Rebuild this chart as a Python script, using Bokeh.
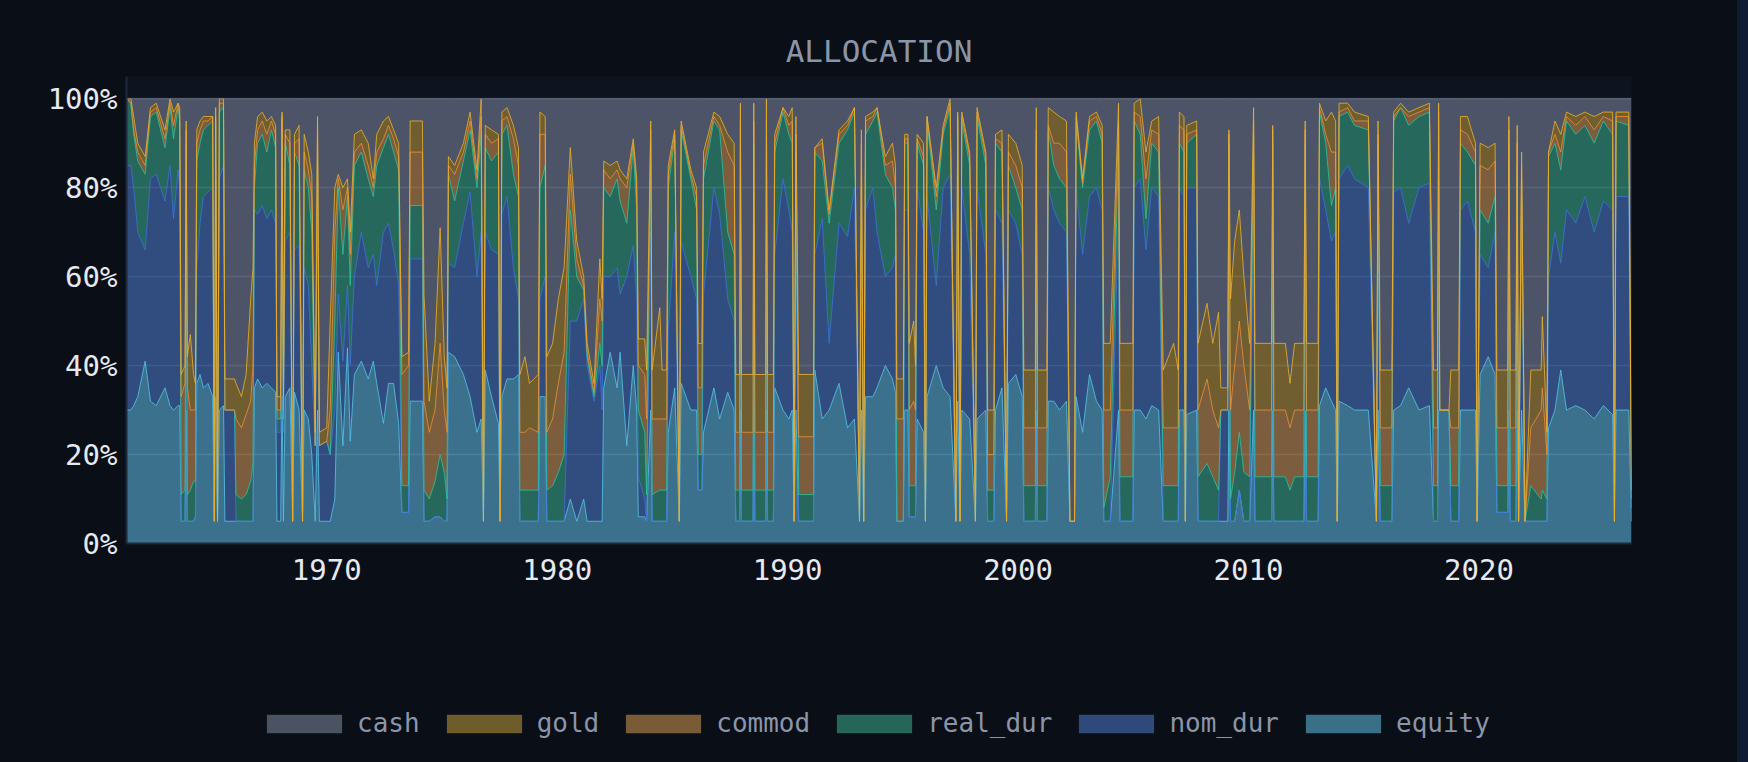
from bokeh.plotting import figure
from bokeh.layouts import column
from bokeh.models import (ColumnDataSource, Legend, LegendItem, FixedTicker,
                          NumeralTickFormatter, Range1d)
from bokeh.transform import stack
from bokeh.embed import file_html
from bokeh.resources import INLINE

# ---- data (decimal year, allocation shares) ----
t = [
 1961.32,1961.50,1961.62,1961.80,1962.12,1962.35,1962.60,1962.98,1963.20,1963.35,
 1963.55,1963.62,1963.68,1963.85,1963.90,1963.95,1964.08,1964.22,1964.30,1964.36,
 1964.50,1964.65,1964.85,1965.05,1965.12,1965.18,1965.26,1965.34,1965.52,1965.58,
 1966.00,1966.06,1966.30,1966.50,1966.70,1966.80,1966.86,1967.00,1967.20,1967.40,
 1967.60,1967.78,1967.84,1968.00,1968.06,1968.12,1968.20,1968.40,1968.52,1968.60,
 1968.80,1968.95,1969.02,1969.20,1969.35,1969.50,1969.60,1969.68,1970.00,1970.15,
 1970.35,1970.50,1970.70,1970.90,1971.02,1971.20,1971.50,1971.80,1972.02,1972.17,
 1972.46,1972.68,1972.90,1973.12,1973.26,1973.55,1973.62,1974.15,1974.22,1974.45,
 1974.70,1974.92,1975.10,1975.22,1975.28,1975.55,1975.93,1976.22,1976.52,1976.70,
 1976.80,1976.88,1977.15,1977.45,1977.52,1977.60,1977.82,1978.10,1978.32,1978.38,
 1978.60,1978.80,1979.18,1979.25,1979.48,1979.55,1979.80,1980.05,1980.30,1980.57,
 1980.85,1981.15,1981.30,1981.60,1981.85,1981.95,1982.02,1982.30,1982.60,1982.73,
 1983.02,1983.30,1983.45,1983.52,1983.80,1983.88,1984.06,1984.12,1984.45,1984.55,
 1984.75,1984.82,1985.10,1985.30,1985.38,1985.80,1986.05,1986.12,1986.28,1986.35,
 1986.80,1987.05,1987.40,1987.68,1987.75,1987.92,1987.95,1988.00,1988.50,1988.53,
 1988.58,1989.05,1989.08,1989.13,1989.38,1989.44,1989.80,1990.05,1990.20,1990.28,
 1990.36,1990.48,1991.12,1991.18,1991.50,1991.80,1992.23,1992.60,1992.90,1993.12,
 1993.20,1993.30,1993.38,1993.70,1993.88,1994.24,1994.55,1994.68,1994.74,1995.02,
 1995.08,1995.22,1995.28,1995.47,1995.55,1995.62,1995.90,1995.98,1996.05,1996.45,
 1996.75,1997.05,1997.30,1997.38,1997.48,1997.56,1997.90,1998.15,1998.22,1998.60,
 1998.68,1998.95,1999.02,1999.30,1999.50,1999.58,1999.90,2000.18,2000.25,2000.75,
 2000.79,2000.84,2001.25,2001.31,2001.55,2001.80,2002.10,2002.25,2002.45,2002.52,
 2002.80,2003.10,2003.40,2003.65,2003.72,2004.00,2004.36,2004.42,2004.98,2005.04,
 2005.30,2005.55,2005.80,2006.10,2006.30,2006.75,2006.95,2007.00,2007.20,2007.26,
 2007.32,2007.75,2007.81,2008.20,2008.45,2008.70,2008.80,2009.10,2009.15,2009.22,
 2009.40,2009.60,2009.80,2010.05,2010.22,2010.28,2011.00,2011.05,2011.10,2011.60,
 2011.80,2012.00,2012.40,2012.46,2012.52,2013.02,2013.08,2013.35,2013.60,2013.78,
 2013.85,2013.93,2014.30,2014.60,2015.20,2015.55,2015.62,2015.72,2016.22,2016.30,
 2016.60,2016.95,2017.40,2017.85,2018.03,2018.20,2018.25,2018.30,2018.70,2018.78,
 2019.12,2019.20,2019.50,2019.85,2019.92,2020.05,2020.40,2020.70,2020.78,2021.25,
 2021.30,2021.36,2021.60,2021.66,2021.72,2021.85,2022.00,2022.25,2022.70,2022.75,
 2022.95,2023.02,2023.30,2023.55,2023.80,2024.20,2024.60,2025.00,2025.40,2025.80,
 2025.88,2025.95,2026.50,2026.62,
]

equity = [
 .30,.30,.31,.33,.41,.32,.31,.35,.31,.30,
 .31,.31,.05,.05,.30,.05,.05,.05,.06,.36,
 .38,.35,.36,.33,.05,.33,.05,.30,.31,.05,
 .05,.05,.05,.05,.05,.05,.35,.37,.35,.36,
 .35,.34,.05,.05,.33,.05,.33,.35,.05,.34,
 .30,.05,.30,.28,.20,.05,.30,.05,.05,.05,
 .10,.43,.22,.44,.23,.38,.41,.37,.41,.36,
 .27,.36,.36,.27,.07,.07,.32,.32,.05,.05,
 .06,.06,.05,.05,.43,.42,.38,.33,.25,.28,
 .05,.39,.33,.27,.05,.33,.37,.37,.38,.05,
 .05,.05,.05,.33,.33,.05,.05,.05,.05,.10,
 .05,.10,.05,.05,.05,.05,.35,.43,.35,.43,
 .22,.40,.30,.06,.06,.05,.30,.05,.05,.05,
 .05,.25,.35,.05,.36,.30,.30,.12,.12,.25,
 .35,.28,.34,.30,.05,.05,.30,.05,.05,.30,
 .05,.05,.30,.05,.05,.35,.30,.28,.30,.05,
 .30,.05,.05,.39,.28,.30,.36,.26,.28,.05,
 .30,.05,.33,.33,.35,.40,.37,.34,.05,.05,
 .30,.30,.06,.06,.06,.28,.25,.05,.33,.40,
 .35,.33,.05,.32,.05,.30,.28,.05,.28,.30,
 .05,.05,.30,.35,.05,.36,.38,.33,.05,.05,
 .30,.05,.05,.32,.32,.30,.32,.05,.05,.33,
 .25,.38,.32,.30,.05,.05,.30,.05,.05,.30,
 .30,.28,.31,.30,.05,.05,.05,.30,.30,.05,
 .29,.30,.05,.05,.05,.05,.05,.05,.30,.05,
 .05,.12,.05,.05,.30,.05,.05,.30,.05,.05,
 .05,.05,.05,.30,.05,.05,.31,.35,.32,.30,
 .05,.32,.31,.30,.30,.05,.30,.05,.05,.30,
 .31,.35,.30,.31,.05,.05,.30,.30,.30,.05,
 .05,.30,.30,.30,.05,.38,.42,.38,.07,.07,
 .30,.05,.05,.30,.05,.30,.05,.05,.05,.05,
 .05,.26,.30,.39,.30,.31,.30,.28,.31,.29,
 .05,.30,.30,.05,
]

nom_dur = [
 .55,.55,.49,.37,.25,.50,.52,.42,.54,.43,
 .53,.49,0,0,.45,0,0,0,0,.26,
 .34,.43,.43,.47,0,.47,0,.52,.54,.25,
 .25,0,0,0,0,0,.40,.37,.41,.37,
 .40,.38,.20,.20,.42,.20,.35,.35,0,.32,
 .37,0,.32,.30,.20,.17,.40,.17,.18,.15,
 .20,.13,.19,.14,.17,.22,.29,.25,.24,.22,
 .43,.36,.30,.31,0,0,.32,.32,0,0,
 0,0,0,0,.20,.20,.34,.46,.35,.42,
 0,.31,.33,.38,0,.41,.41,.25,.17,0,
 0,0,0,.22,.27,0,0,0,0,.40,
 .45,.45,.35,.27,.35,.25,.25,.17,.27,.13,
 .38,.27,.25,.09,.04,0,.40,0,0,0,
 0,.23,.35,0,.32,.30,.25,0,0,.31,
 .45,.46,.21,.20,0,0,.40,0,0,.40,
 0,0,.40,0,0,.30,.52,.47,.40,0,
 .40,0,0,.26,.45,.15,.36,.43,.52,0,
 .25,0,.42,.47,.35,.20,.25,.31,0,0,
 .45,.45,0,0,0,.52,.45,0,.45,.18,
 .45,.50,0,.48,0,.50,.37,0,.52,.35,
 0,0,.45,.37,0,.39,.34,.32,0,0,
 .40,0,0,.48,.43,.42,.38,0,0,.47,
 .40,.40,.48,.45,0,0,.45,0,0,.50,
 .52,.38,.49,.48,0,0,0,.50,.48,0,
 .51,.50,0,0,0,0,.25,.25,.50,0,
 0,0,0,0,.50,0,0,.45,0,0,
 0,0,0,.45,0,0,.51,.40,.36,.40,
 0,.50,.54,.52,.50,0,.48,0,0,.49,
 .49,.37,.50,.50,0,0,.50,0,0,0,
 0,.45,.47,.40,0,.27,.20,.32,0,0,
 .48,0,0,.40,0,.35,0,0,0,0,
 0,.34,.40,.24,.45,.41,.48,.42,.46,.46,
 0,.48,.48,0,
]

real_dur = [
 .15,.14,.12,.16,.17,.14,.14,.12,.13,.18,
 .14,.15,.06,.07,.15,.06,.07,.09,.08,.24,
 .18,.15,.15,.15,0,.15,0,.15,.13,0,
 0,.06,.05,.06,.09,.13,.05,.16,.16,.15,
 .18,.17,.03,.03,.20,.03,.22,.15,0,.22,
 .18,0,.22,.22,.30,0,.20,0,0,0,
 .20,.24,.24,.20,.18,.25,.18,.20,.13,.27,
 .19,.20,.22,.26,.06,.06,.12,.12,.07,.05,
 .08,.14,.11,.05,.20,.15,.14,.14,.20,.22,
 0,.19,.20,.23,0,.18,.16,.21,.23,.07,
 .07,.07,.07,.25,.25,.07,.08,.11,.15,.25,
 .10,.02,.02,.01,.05,.10,.20,.18,.20,.21,
 .12,.22,.20,.15,.15,.06,.20,.06,.07,.07,
 .07,.32,.21,0,.25,.22,.20,.08,.08,.26,
 .15,.19,.15,.15,.07,.07,.20,.07,.07,.20,
 .07,.07,.20,.07,.07,.23,.15,.17,.20,0,
 .18,.06,.06,.23,.13,.27,.18,.24,.17,0,
 .25,0,.17,.15,.27,.23,.18,.10,0,0,
 .15,.15,.07,.07,.07,.10,.15,0,.17,.17,
 .12,.15,0,.15,0,.15,.20,0,.16,.20,
 .07,.07,.15,.16,0,.10,.08,.10,.08,.08,
 .20,.08,.08,.13,.10,.10,.10,0,0,.15,
 .15,.15,.15,.15,.03,.10,.15,.10,.10,.15,
 .10,.07,.10,.10,.08,.08,.08,.10,.10,0,
 .10,.12,.10,.13,.10,.07,0,0,.10,.05,
 .11,.13,.11,.10,.12,.10,.10,.15,.10,.10,
 .07,.10,.10,.15,.10,.10,.15,.15,.08,.10,
 0,.14,.12,.12,.13,0,.12,.08,.08,.16,
 .18,.22,.16,.16,.08,.08,.15,0,0,.08,
 .08,.15,.11,.15,0,.10,.10,.08,.06,.06,
 .12,.08,.08,.15,0,.15,0,.08,.05,.07,
 .05,.27,.20,.21,.20,.20,.16,.20,.18,.17,
 0,.17,.16,.03,
]

commod = [
 0,0,.01,.02,.02,.01,.01,.02,.01,.03,
 .01,.01,.22,.24,.03,.24,.18,.16,.16,.04,
 .03,.02,.01,.01,0,.01,0,.02,.01,0,
 0,.17,.16,.18,.18,.22,.05,.03,.03,.04,
 .02,.03,.02,.02,.01,.02,.02,.05,0,.02,
 .06,0,.04,.04,.08,0,.04,0,0,.10,
 .20,.02,.10,.02,.07,.03,.02,.03,.02,.03,
 .02,.02,.03,.03,.25,.27,.12,.12,.20,.15,
 .16,.25,.14,.15,.02,.06,.02,.02,.02,.04,
 0,.03,.04,.03,0,.03,.02,.08,.07,.13,
 .13,.14,.13,.12,.07,.13,.15,.20,.23,.08,
 .04,.01,.01,.01,.10,.10,.04,.04,.02,.05,
 .08,.01,.05,.10,.13,.17,.03,.17,.16,.16,
 .16,.03,.01,0,.01,.01,.03,.15,.15,.03,
 .01,.01,.18,.20,.13,.13,.05,.13,.13,.05,
 .13,.13,.05,.13,.13,.02,.01,.02,.05,0,
 .04,.13,.13,.01,.04,.02,.02,.01,.01,0,
 .10,0,.03,.01,.01,.02,.06,.05,.23,.23,
 .01,.01,.17,.19,.17,.01,.02,0,.01,.03,
 .01,.01,0,.01,0,.01,.02,0,.01,.02,
 .08,.08,.01,.02,0,.03,.05,.05,.13,.13,
 .03,.13,.13,.01,.05,.08,.08,0,0,.01,
 .01,.02,.01,.02,.22,.15,.05,.15,.15,.02,
 .04,.09,.03,.04,.13,.13,.13,.04,.05,0,
 .02,.01,.15,.19,.15,.14,0,0,.02,.20,
 .24,.25,.24,.15,.03,.15,.15,.03,.15,.15,
 .14,.15,.15,.03,.15,.15,.01,.02,.12,.08,
 0,.01,.01,.01,.02,0,.02,.13,.13,.01,
 0,.02,.01,.01,.13,.13,.02,0,0,.13,
 .13,.03,.04,.03,0,.10,.12,.08,.13,.13,
 .03,.13,.13,.05,0,.05,0,.13,.20,.23,
 .10,.01,.02,.04,.01,.02,.02,.03,.01,.03,
 0,.01,.02,.02,
]

gold = [
 0,.01,.03,.02,.02,.01,.01,.02,.01,.03,
 0,.02,.05,.04,.02,.07,.17,.08,.06,.03,
 .02,.01,.01,0,0,.02,0,.01,.01,.07,
 .07,.08,.07,.09,.23,.22,.05,.03,.02,.03,
 .01,.02,.03,.03,.01,.03,.01,.03,0,.02,
 .03,0,.04,.04,.05,.03,.02,.03,.03,.20,
 .10,.01,.05,.02,.05,.04,.03,.05,.02,.04,
 .04,.02,.02,.03,.04,.03,.07,.07,.24,.07,
 .15,.26,.12,.10,.02,.02,.02,.02,.02,.04,
 0,.02,.03,.01,0,.02,.02,.03,.04,.13,
 .17,.10,.13,.05,.04,.17,.17,.19,.19,.06,
 .04,.02,.02,.02,.09,.05,.02,.03,.02,.02,
 .02,.01,.02,.06,.08,.11,.02,.11,.25,.11,
 .11,.02,.01,0,.01,.01,.02,.10,.10,.03,
 .01,.02,.04,.05,.13,.13,.04,.13,.13,.04,
 .13,.13,.05,.13,.13,.02,0,.02,.03,0,
 .04,.14,.14,0,.01,.01,.01,.01,0,0,
 .03,0,.01,.01,0,.02,.04,.05,.09,.09,
 .01,.01,.15,.18,.10,.01,.03,0,0,.02,
 .01,.01,0,.01,0,.01,.01,0,.01,.01,
 .10,.10,.01,.03,0,.04,.05,.05,.13,.13,
 .05,.13,.13,.04,.07,.06,.07,0,0,.01,
 .01,.01,.01,.02,.15,.15,.04,.15,.15,.02,
 .04,.06,.02,.04,.13,.19,.13,.03,.03,0,
 .02,.02,.15,.17,.15,.26,.05,.05,.01,.25,
 .28,.25,.20,.15,.03,.15,.15,.01,.15,.15,
 .10,.15,.15,.02,.15,.15,.01,.03,.09,.07,
 0,.02,.01,.02,.01,0,.03,.13,.13,.01,
 .01,.01,.01,.01,.13,.13,.02,0,0,.13,
 .13,.03,.04,.02,0,.05,.05,.04,.13,.13,
 .03,.13,.13,.04,0,.03,0,.13,.09,.16,
 .05,0,.03,.04,.01,.02,.01,.03,.01,.02,
 0,.01,.01,.02,
]

cash = [
 0,0,.04,.10,.13,.02,.01,.07,0,.03,
 .01,.02,.62,.60,.05,.58,.53,.62,.64,.07,
 .05,.04,.04,.04,.95,.02,.95,0,0,.63,
 .63,.64,.67,.62,.45,.38,.10,.04,.03,.05,
 .04,.06,.67,.67,.03,.67,.07,.07,.95,.08,
 .06,.95,.08,.12,.17,.75,.04,.75,.74,.50,
 .20,.17,.20,.18,.30,.08,.07,.10,.18,.08,
 .05,.04,.07,.10,.58,.57,.05,.05,.44,.68,
 .55,.29,.58,.65,.13,.15,.10,.03,.16,0,
 .95,.06,.07,.08,.95,.03,.02,.06,.11,.62,
 .58,.64,.62,.03,.04,.58,.55,.45,.38,.11,
 .32,.40,.55,.64,.36,.45,.14,.15,.14,.16,
 .18,.09,.18,.54,.54,.61,.05,.61,.47,.61,
 .61,.15,.07,.95,.05,.16,.20,.55,.55,.12,
 .03,.04,.08,.10,.62,.62,.01,.62,.62,.01,
 .62,.62,0,.62,.62,.08,.02,.04,.02,.95,
 .04,.62,.62,.11,.09,.25,.07,.05,.02,.95,
 .07,.95,.04,.03,.02,.13,.10,.15,.63,.63,
 .08,.08,.55,.50,.60,.08,.10,.95,.04,.20,
 .06,0,.95,.03,.95,.03,.12,.95,.02,.12,
 .70,.70,.08,.07,.95,.08,.10,.15,.61,.61,
 .02,.61,.61,.02,.03,.04,.05,.95,.95,.03,
 .18,.04,.03,.06,.55,.55,.01,.55,.55,.01,
 0,.12,.05,.04,.61,.55,.61,.03,.04,.95,
 .06,.05,.55,.46,.55,.48,.65,.65,.07,.45,
 .32,.25,.40,.55,.02,.55,.55,.06,.55,.55,
 .64,.55,.55,.05,.55,.55,.01,.05,.03,.05,
 .95,.01,.01,.03,.04,.95,.05,.61,.61,.03,
 .01,.03,.02,.01,.61,.61,.01,.70,.70,.61,
 .61,.04,.04,.10,.95,.10,.11,.10,.61,.61,
 .04,.61,.61,.06,.95,.12,.95,.61,.61,.49,
 .75,.12,.05,.08,.03,.04,.03,.04,.03,.03,
 .95,.03,.03,.88,
]

series = ["equity", "nom_dur", "real_dur", "commod", "gold", "cash"]
fill_colors = {"equity": "#6ad0f9", "nom_dur": "#5486dd", "real_dur": "#40be99",
               "commod": "#eaa859", "gold": "#d2aa3f", "cash": "#8c96ad"}
line_colors = {"equity": "#56c2e6", "nom_dur": "#3f72d6", "real_dur": "#2fbf9b",
               "commod": "#e8903a", "gold": "#e8b030", "cash": "#6b7488"}
y_ticks = [0, 0.2, 0.4, 0.6, 0.8, 1.0]
x_ticks = [1970, 1980, 1990, 2000, 2010, 2020]

src = ColumnDataSource(dict(t=t, equity=equity, nom_dur=nom_dur, real_dur=real_dur,
                            commod=commod, gold=gold, cash=cash))

FONT = "DejaVu Sans Mono"
PAGE_BG = "#0a0e17"
W = 1737

p = figure(width=W, height=600, output_backend="svg", toolbar_location=None,
           x_range=Range1d(1961.31, 2026.62), y_range=Range1d(0, 1.05),
           title="ALLOCATION",
           min_border_left=126, min_border_right=W - 126 - 1505,
           min_border_top=76, min_border_bottom=57)

p.background_fill_color = "#0e1320"
p.border_fill_color = PAGE_BG
p.outline_line_color = None

p.title.text_font = FONT
p.title.text_font_size = "31px"
p.title.text_font_style = "normal"
p.title.text_color = "#8b95a8"
p.title.align = "center"
p.title.standoff = 15

areas = p.varea_stack(stackers=series, x="t", source=src,
                      fill_color=[fill_colors[s] for s in series], fill_alpha=0.5)

cum = []
for s in series:
    cum.append(s)
    p.line(x="t", y=stack(*cum), source=src, line_color=line_colors[s],
           line_width=1, line_alpha=0.85)

p.yaxis.ticker = FixedTicker(ticks=y_ticks)
p.yaxis.formatter = NumeralTickFormatter(format="0%")
p.xaxis.ticker = FixedTicker(ticks=x_ticks)

for ax in (p.xaxis[0], p.yaxis[0]):
    ax.major_label_text_font = FONT
    ax.major_label_text_font_size = "29px"
    ax.major_label_text_color = "#e6e9ef"
    ax.major_tick_line_color = None
    ax.minor_tick_line_color = None
    ax.major_tick_out = 0
    ax.major_tick_in = 0
    ax.minor_tick_out = 0
    ax.axis_line_color = "#1e293b"
    ax.axis_line_width = 2
p.yaxis[0].major_label_standoff = 9
p.xaxis[0].major_label_standoff = 15

p.xgrid.grid_line_color = None
p.ygrid.grid_line_color = "#94a3b8"
p.ygrid.grid_line_alpha = 0.2
p.ygrid.grid_line_width = 1.5

# ---- legend strip (separate canvas below the chart) ----
q = figure(width=W, height=160, output_backend="svg", toolbar_location=None,
           x_range=Range1d(0, 1), y_range=Range1d(0, 1),
           x_axis_type=None, y_axis_type=None, min_border=0)
q.background_fill_color = PAGE_BG
q.border_fill_color = PAGE_BG
q.outline_line_color = None
q.xgrid.visible = False
q.ygrid.visible = False

legend_src = ColumnDataSource(dict(x=[-2.0, -1.0], y1=[0, 0], y2=[0, 0]))
lr = {}
for s in series:
    lr[s] = q.varea(x="x", y1="y1", y2="y2", source=legend_src,
                    fill_color=fill_colors[s], fill_alpha=0.5)

legend = Legend(items=[LegendItem(label=s, renderers=[lr[s]]) for s in reversed(series)],
                orientation="horizontal", location=(131, 22),
                glyph_width=94, glyph_height=23, label_standoff=6, spacing=17,
                padding=10, label_text_font=FONT, label_text_font_size="26px",
                label_text_color="#8b95a8", background_fill_alpha=0,
                border_line_color=None)
q.add_layout(legend, "center")

layout = column(p, q, spacing=0)

html = file_html(layout, INLINE, title="ALLOCATION")
style = ("<style>html,body{margin:0 !important;padding:0;"
         "background:linear-gradient(to right,#0a0e17 1737px,#111c34 1737px) !important;}"
         "</style>")
html = html.replace("</head>", style + "</head>", 1)
open("out.html", "w").write(html)
